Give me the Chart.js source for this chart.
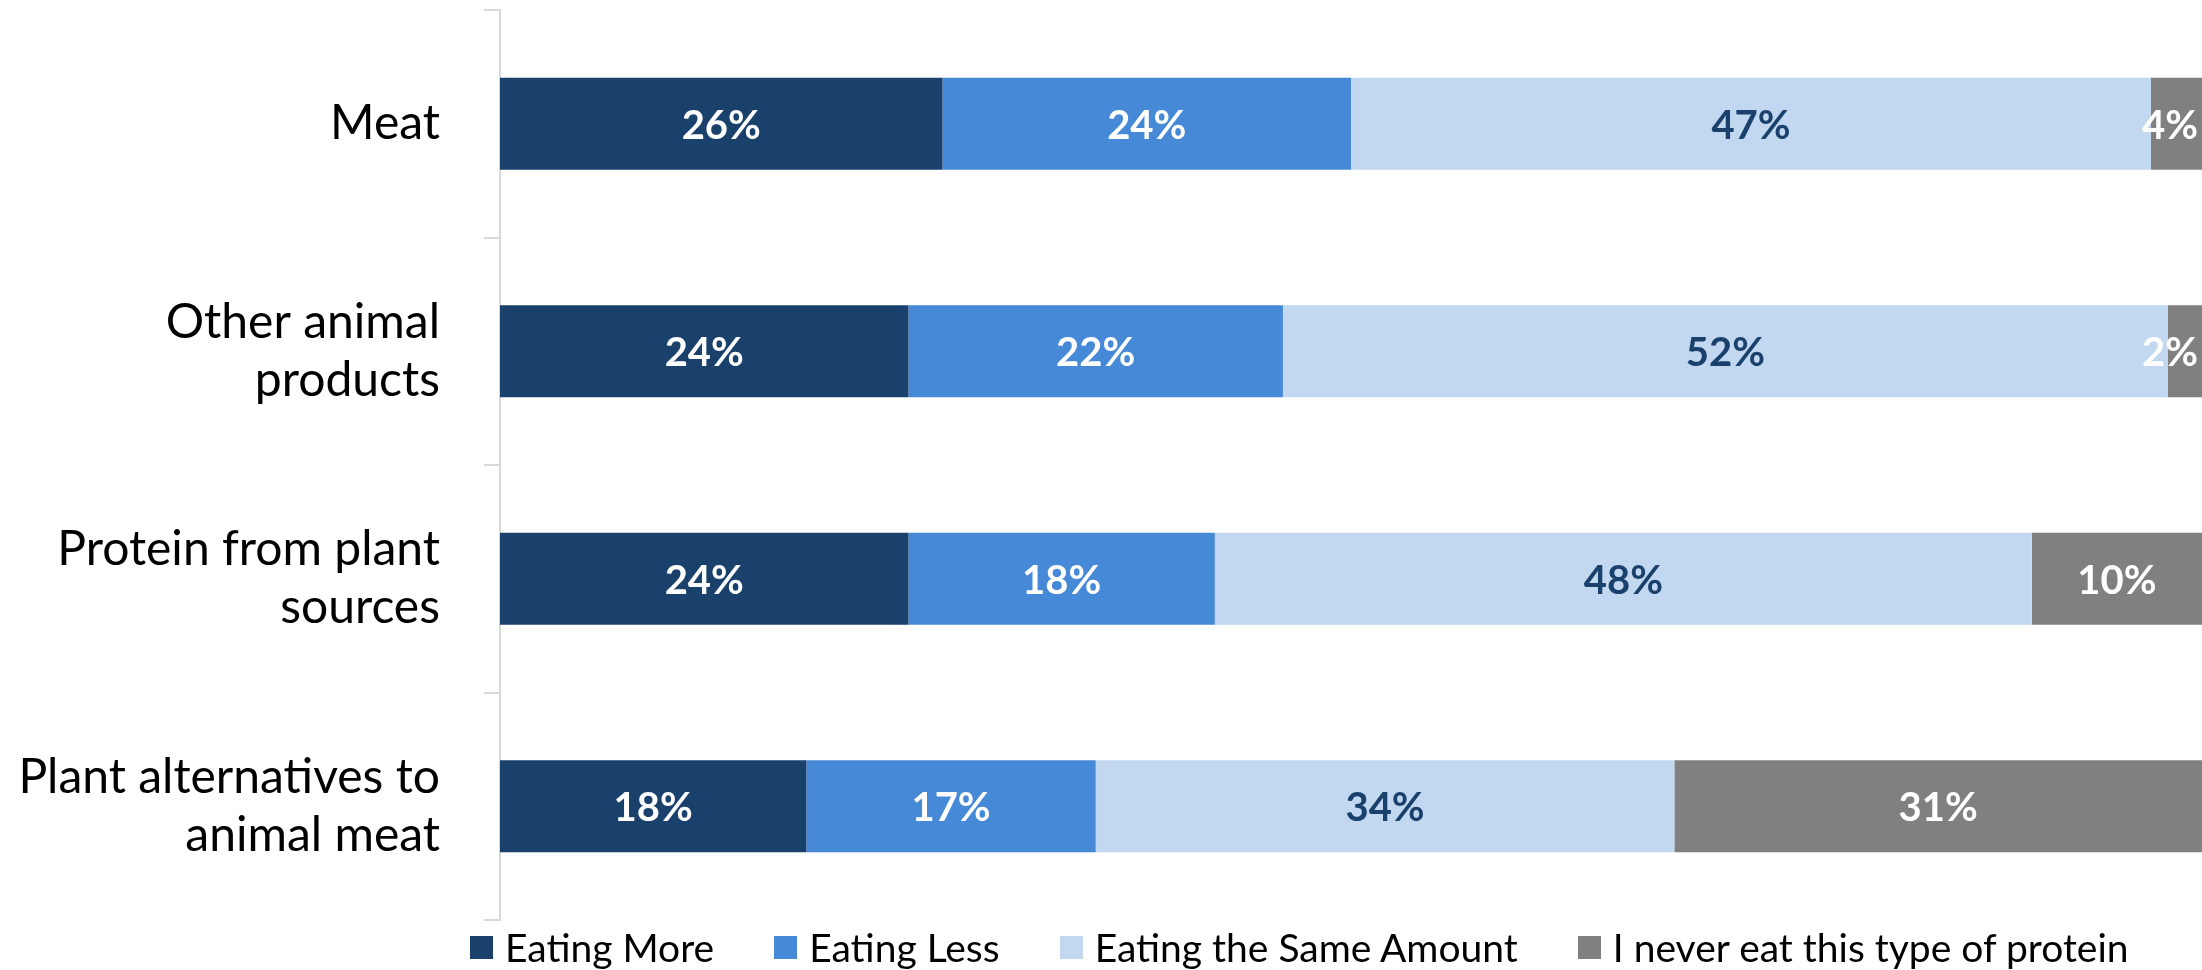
<!DOCTYPE html>
<html>
<head>
<meta charset="utf-8">
<title>Protein consumption change</title>
<script src="https://cdn.jsdelivr.net/npm/chart.js@4.4.1/dist/chart.umd.min.js"></script>
<style>
  html, body { margin: 0; padding: 0; background: #fff; }
  #wrap { position: relative; width: 2202px; height: 970px; overflow: hidden; }
  #chart { position: absolute; left: 0; top: 0; }
  #legend {
    position: absolute; left: 470px; top: 925px; height: 45px;
    display: flex; align-items: center;
    font-family: Lato, sans-serif; font-size: 39px; color: #000; line-height: 45px;
  }
  .item { display: flex; align-items: center; margin-right: 60px; white-space: nowrap; }
  .swatch { width: 23px; height: 23px; margin-right: 12px; }
</style>
</head>
<body>
<div id="wrap">
  <canvas id="chart" width="2202" height="930"></canvas>
  <div id="legend"></div>
</div>
<script>
/* ── Data ── */
const categories = ['Meat', ['Other animal', 'products'], ['Protein from plant', 'sources'], ['Plant alternatives to', 'animal meat']];
const seriesNames = ['Eating More', 'Eating Less', 'Eating the Same Amount', 'I never eat this type of protein'];
const eatingMore = [26, 24, 24, 18];
const eatingLess = [24, 22, 18, 17];
const eatingSame = [47, 52, 48, 34];
const neverEat   = [4, 2, 10, 31];

const barColors   = ['#1A406C', '#4689D6', '#C2D8F1', '#808080'];
const labelColors = ['#FFFFFF', '#FFFFFF', '#1A406C', '#FFFFFF'];

/* ── Percentage labels centred in each segment ── */
const barLabels = {
  id: 'barLabels',
  afterDatasetsDraw(chart) {
    const { ctx, chartArea } = chart;
    ctx.save();
    ctx.font = 'bold 40px Lato, sans-serif';
    ctx.textAlign = 'center';
    ctx.textBaseline = 'middle';
    chart.data.datasets.forEach((ds, i) => {
      chart.getDatasetMeta(i).data.forEach((bar, j) => {
        const text = ds.data[j] + '%';
        const { x, base, y } = bar.getProps(['x', 'base', 'y'], true);
        const w = ctx.measureText(text).width;
        // keep the last label inside the plot when the stack runs past 100
        const cx = Math.min((x + base) / 2, chartArea.right - w / 2 - 4);
        ctx.fillStyle = labelColors[i];
        ctx.fillText(text, cx, y + 2);
      });
    });
    ctx.restore();
  }
};

/* ── Legend (HTML, below the canvas) ── */
function buildLegend() {
  const box = document.getElementById('legend');
  seriesNames.forEach((name, i) => {
    const item = document.createElement('div');
    item.className = 'item';
    const sw = document.createElement('span');
    sw.className = 'swatch';
    sw.style.background = barColors[i];
    const label = document.createElement('span');
    label.textContent = name;
    item.append(sw, label);
    box.appendChild(item);
  });
}

function initChart() {
  const series = [eatingMore, eatingLess, eatingSame, neverEat];
  new Chart(document.getElementById('chart'), {
    type: 'bar',
    data: {
      labels: categories,
      datasets: series.map((data, i) => ({
        label: seriesNames[i],
        data,
        backgroundColor: barColors[i],
        borderWidth: 0,
        categoryPercentage: 1,
        barPercentage: 0.405
      }))
    },
    options: {
      indexAxis: 'y',
      responsive: false,
      animation: false,
      layout: { padding: { top: 10, bottom: 10, right: 0, left: 0 } },
      plugins: {
        legend: { display: false },
        tooltip: { enabled: false }
      },
      scales: {
        x: { stacked: true, min: 0, max: 100, display: false },
        y: {
          stacked: true,
          // fixed gutter for the category names; labels sit between gridlines so no end padding
          afterFit: scale => {
            scale.width = 500;
            scale.paddingTop = 0;
            scale.paddingBottom = 0;
          },
          border: { color: '#D9D9D9', width: 2 },
          grid: { drawOnChartArea: false, tickLength: 16, color: '#D9D9D9', lineWidth: 2 },
          ticks: {
            color: '#000',
            padding: 44,
            font: { family: 'Lato, sans-serif', size: 48, lineHeight: 1.2 }
          }
        }
      }
    },
    plugins: [barLabels]
  });
}

document.addEventListener('DOMContentLoaded', () => {
  buildLegend();
  Promise.all([
    document.fonts.load('48px Lato'),
    document.fonts.load('bold 40px Lato')
  ]).finally(initChart);
});
</script>
</body>
</html>
